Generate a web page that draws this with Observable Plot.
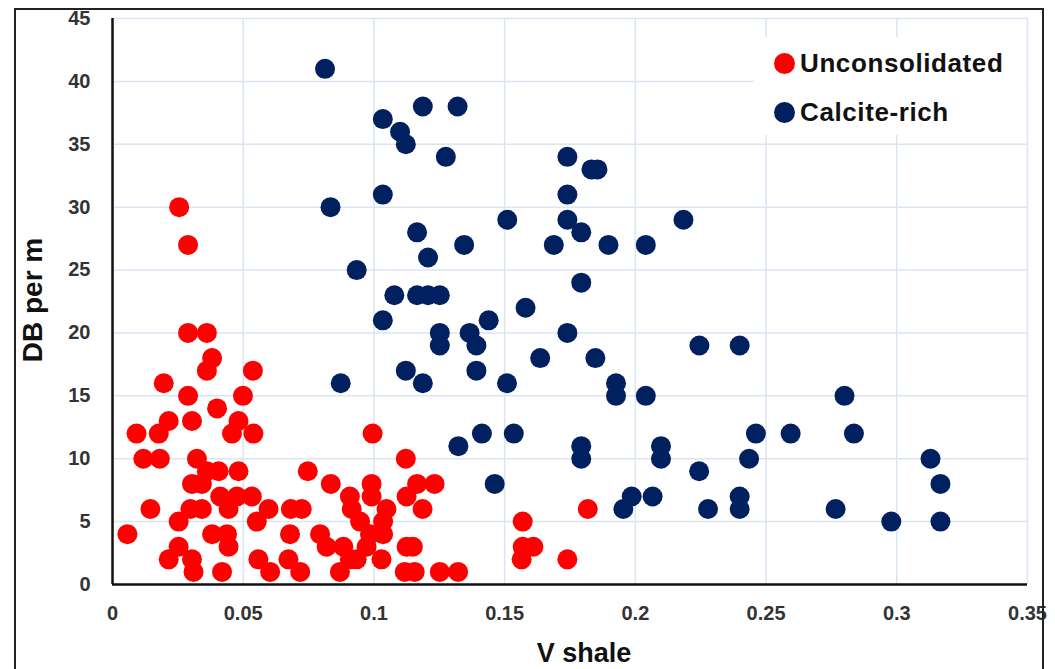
<!DOCTYPE html>
<html>
<head>
<meta charset="utf-8">
<script src="https://cdn.jsdelivr.net/npm/d3@7"></script>
<script src="https://cdn.jsdelivr.net/npm/@observablehq/plot@0.6"></script>
<style>
  html, body { margin: 0; padding: 0; background: #fff; }
  #wrap { position: relative; width: 1055px; height: 669px; overflow: hidden; font-family: "Liberation Sans", Arial, sans-serif; }
  #border { position: absolute; left: 14px; top: 8px; width: 1026px; height: 680px; border: 2px solid #222; box-sizing: content-box; pointer-events: none; }
  #legend { position: absolute; left: 754px; top: 37px; width: 272px; height: 98px; background: #fff; }
  .item { position: absolute; left: 20px; display: flex; align-items: center; font-weight: bold; font-size: 26px; letter-spacing: 0.6px; color: #111; white-space: nowrap; }
  .sw { width: 21px; height: 21px; border-radius: 50%; margin-right: 5px; }
</style>
</head>
<body>
<div id="wrap"></div>
<script>
// ---- data ----
const unconsX = [0.0255,0.0289,0.0289,0.0361,0.0381,0.0361,0.0537,0.0196,0.0289,0.0499,0.0400,0.0215,0.0304,0.0482,0.0092,0.0177,0.0457,0.0539,0.0995,0.0118,0.0181,0.0323,0.1122,0.0361,0.0406,0.0482,0.0747,0.0304,0.0342,0.0835,0.0991,0.1165,0.1232,0.0412,0.0476,0.0533,0.0908,0.0991,0.1125,0.0145,0.0298,0.0342,0.0444,0.0597,0.0682,0.0724,0.0915,0.1048,0.1186,0.1818,0.0253,0.0552,0.0947,0.1035,0.1569,0.0057,0.0381,0.0438,0.0679,0.0794,0.0985,0.1035,0.0253,0.0444,0.0819,0.0883,0.0972,0.1125,0.1149,0.1569,0.1610,0.0215,0.0304,0.0558,0.0673,0.0908,0.0934,0.1029,0.1565,0.1740,0.0310,0.0419,0.0603,0.0718,0.0870,0.1118,0.1156,0.1252,0.1322];
const unconsY = [30,27,20,20,18,17,17,16,15,15,14,13,13,13,12,12,12,12,12,10,10,10,10,9,9,9,9,8,8,8,8,8,8,7,7,7,7,7,7,6,6,6,6,6,6,6,6,6,6,6,5,5,5,5,5,4,4,4,4,4,4,4,3,3,3,3,3,3,3,3,3,2,2,2,2,2,2,2,2,2,1,1,1,1,1,1,1,1,1];
const calciteX = [0.0813,0.1034,0.1187,0.1320,0.1100,0.1122,0.1275,0.1740,0.1832,0.1855,0.1034,0.1740,0.0834,0.1510,0.1740,0.2184,0.1165,0.1793,0.1345,0.1688,0.1897,0.2040,0.1207,0.0934,0.1793,0.1078,0.1165,0.1207,0.1252,0.1580,0.1439,0.1034,0.1252,0.1366,0.1740,0.1252,0.1392,0.2245,0.2399,0.1636,0.1847,0.1122,0.1392,0.0873,0.1187,0.1509,0.1926,0.1926,0.2040,0.2800,0.1413,0.1535,0.2461,0.2594,0.2836,0.1323,0.1793,0.2098,0.1793,0.2098,0.2435,0.3129,0.2244,0.1462,0.3167,0.1986,0.2066,0.2399,0.1954,0.2278,0.2399,0.2766,0.2979,0.3167];
const calciteY = [41,37,38,38,36,35,34,34,33,33,31,31,30,29,29,29,28,28,27,27,27,27,26,25,24,23,23,23,23,22,21,21,20,20,20,19,19,19,19,18,18,17,17,16,16,16,16,15,15,15,12,12,12,12,12,11,11,11,10,10,10,10,9,8,8,7,7,7,6,6,6,6,5,5];
const seriesNames = ["Unconsolidated", "Calcite-rich"];
const seriesColors = ["#ff0000", "#002060"];
const xTicks = [0, 0.05, 0.1, 0.15, 0.2, 0.25, 0.3, 0.35];
const yTicks = [0, 5, 10, 15, 20, 25, 30, 35, 40, 45];
const xTitle = "V shale";
const yTitle = "DB per m";

const rows = [
  ...unconsX.map((x, i) => ({x, y: unconsY[i], s: seriesNames[0]})),
  ...calciteX.map((x, i) => ({x, y: calciteY[i], s: seriesNames[1]}))
];

const fmt = d => String(+(+d).toFixed(2));

const chart = Plot.plot({
  width: 1055,
  height: 669,
  marginLeft: 112,
  marginRight: 28,
  marginTop: 18,
  marginBottom: 85,
  style: {fontFamily: "'Liberation Sans', Arial, sans-serif", background: "transparent", overflow: "visible"},
  x: {domain: [0, 0.35], ticks: xTicks, tickFormat: fmt},
  y: {domain: [0, 45], ticks: yTicks},
  color: {domain: seriesNames, range: seriesColors},
  marks: [
    Plot.gridX(xTicks, {stroke: "#dbe5f3", strokeOpacity: 1, strokeWidth: 1.5}),
    Plot.gridY(yTicks, {stroke: "#dbe5f3", strokeOpacity: 1, strokeWidth: 1.5}),
    Plot.axisX(xTicks, {tickSize: 0, tickPadding: 21, fontSize: 20, fontWeight: "bold", fill: "#333", label: null, tickFormat: fmt}),
    Plot.axisY(yTicks, {tickSize: 0, tickPadding: 22, fontSize: 20, fontWeight: "bold", fill: "#333", label: null}),
    Plot.dot(rows, {x: "x", y: "y", fill: "s", r: 10, stroke: null}),
    Plot.ruleX([0], {stroke: "#111", strokeWidth: 2.5}),
    Plot.ruleY([0], {stroke: "#111", strokeWidth: 2.5})
  ]
});

const wrap = document.getElementById("wrap");
wrap.appendChild(chart);
chart.style.position = "absolute";
chart.style.left = "0px";
chart.style.top = "0px";

// axis titles
const svg = d3.select(chart);
svg.append("text")
  .attr("transform", "translate(42,300) rotate(-90)")
  .attr("text-anchor", "middle")
  .attr("font-size", 28).attr("font-weight", "bold").attr("fill", "#111")
  .attr("font-family", "'Liberation Sans', Arial, sans-serif")
  .text(yTitle);
svg.append("text")
  .attr("x", 584).attr("y", 662)
  .attr("text-anchor", "middle")
  .attr("font-size", 27).attr("font-weight", "bold").attr("fill", "#111")
  .attr("font-family", "'Liberation Sans', Arial, sans-serif")
  .text(xTitle);

// legend
const leg = document.createElement("div");
leg.id = "legend";
seriesNames.forEach((name, i) => {
  const it = document.createElement("div");
  it.className = "item";
  it.style.top = (i === 0 ? 11 : 60) + "px";
  const sw = document.createElement("span");
  sw.className = "sw";
  sw.style.background = seriesColors[i];
  it.appendChild(sw);
  it.appendChild(document.createTextNode(name));
  leg.appendChild(it);
});
wrap.appendChild(leg);

const border = document.createElement("div");
border.id = "border";
wrap.appendChild(border);
</script>
</body>
</html>
